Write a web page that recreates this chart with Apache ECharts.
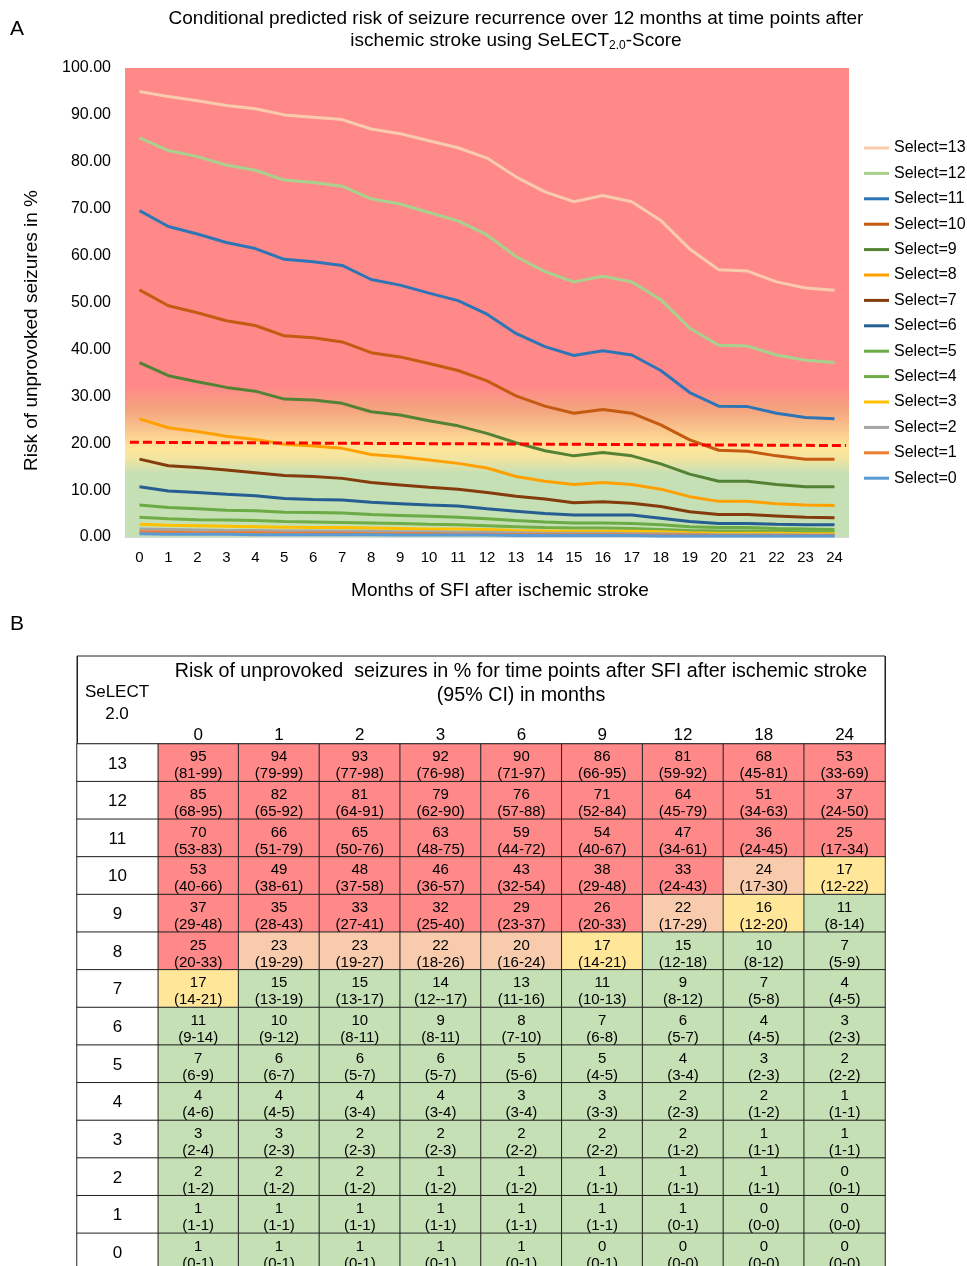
<!DOCTYPE html>
<html>
<head>
<meta charset="utf-8">
<script src="https://cdn.jsdelivr.net/npm/echarts@6/dist/echarts.min.js"></script>
<style>
  html, body { margin: 0; padding: 0; background: #fff; overflow: hidden; }
  #chart { width: 967px; height: 1280px; }
</style>
</head>
<body>
<div id="chart"></div>
<script>
// months after SFI (x axis of panel A)
const months = ['0','1','2','3','4','5','6','7','8','9','10','11','12',
  '13','14','15','16','17','18','19','20','21','22','23','24'];

// predicted risk (%) per SeLECT 2.0 score
const sel13 = [95.0, 93.9, 93.0, 92.0, 91.3, 90.0, 89.5, 89.0, 87.0, 86.0, 84.5, 83.0, 80.8, 76.8, 73.6, 71.5, 72.8, 71.5, 67.5, 61.4, 57.0, 56.7, 54.4, 53.1, 52.6];
const sel12 = [85.1, 82.4, 81.1, 79.3, 78.2, 76.1, 75.6, 74.8, 72.1, 71.0, 69.2, 67.4, 64.4, 59.8, 56.6, 54.4, 55.6, 54.4, 50.6, 44.5, 40.9, 40.7, 38.8, 37.7, 37.2];
const sel11 = [69.6, 66.2, 64.6, 62.8, 61.5, 59.2, 58.7, 57.9, 54.9, 53.7, 52.0, 50.4, 47.5, 43.4, 40.6, 38.7, 39.7, 38.8, 35.5, 30.8, 27.9, 27.8, 26.4, 25.5, 25.2];
const sel10 = [52.7, 49.3, 47.8, 46.1, 45.1, 42.9, 42.5, 41.6, 39.3, 38.4, 37.0, 35.5, 33.3, 30.1, 27.9, 26.4, 27.2, 26.4, 23.9, 20.7, 18.5, 18.3, 17.3, 16.6, 16.6];
const sel9  = [37.2, 34.4, 33.1, 31.9, 31.1, 29.4, 29.2, 28.5, 26.7, 26.0, 24.8, 23.7, 22.1, 20.1, 18.4, 17.3, 18.0, 17.3, 15.6, 13.4, 11.9, 11.9, 11.2, 10.7, 10.7];
const sel8  = [25.2, 23.3, 22.5, 21.5, 20.8, 19.8, 19.4, 18.9, 17.6, 17.1, 16.4, 15.7, 14.7, 12.9, 11.9, 11.2, 11.6, 11.2, 10.2, 8.6, 7.6, 7.6, 7.1, 6.8, 6.7];
const sel7  = [16.6, 15.2, 14.8, 14.3, 13.7, 13.1, 12.9, 12.5, 11.6, 11.1, 10.6, 10.2, 9.5, 8.7, 8.1, 7.3, 7.5, 7.2, 6.5, 5.4, 4.8, 4.8, 4.5, 4.2, 4.1];
const sel6  = [10.7, 9.8, 9.5, 9.1, 8.8, 8.2, 8.0, 7.9, 7.4, 7.1, 6.8, 6.6, 6.0, 5.5, 5.0, 4.7, 4.7, 4.7, 4.0, 3.3, 2.9, 2.9, 2.7, 2.6, 2.6];
const sel5  = [6.8, 6.3, 6.0, 5.7, 5.6, 5.3, 5.2, 5.1, 4.8, 4.6, 4.4, 4.2, 3.9, 3.5, 3.2, 3.0, 3.0, 2.9, 2.6, 2.2, 2.0, 2.0, 1.8, 1.7, 1.6];
const sel4  = [4.2, 3.9, 3.7, 3.6, 3.5, 3.3, 3.2, 3.1, 3.0, 2.9, 2.7, 2.6, 2.4, 2.2, 2.0, 1.9, 1.9, 1.8, 1.6, 1.4, 1.3, 1.3, 1.2, 1.1, 1.1];
const sel3  = [2.7, 2.5, 2.4, 2.3, 2.2, 2.1, 2.0, 2.0, 1.9, 1.8, 1.7, 1.7, 1.6, 1.4, 1.3, 1.2, 1.2, 1.2, 1.1, 0.9, 0.8, 0.8, 0.8, 0.7, 0.7];
const sel2  = [1.7, 1.6, 1.5, 1.4, 1.4, 1.3, 1.3, 1.2, 1.2, 1.1, 1.1, 1.0, 1.0, 0.9, 0.8, 0.8, 0.8, 0.7, 0.7, 0.6, 0.5, 0.5, 0.5, 0.4, 0.4];
const sel1  = [1.1, 1.0, 0.9, 0.9, 0.9, 0.8, 0.8, 0.8, 0.7, 0.7, 0.7, 0.6, 0.6, 0.5, 0.5, 0.5, 0.5, 0.4, 0.4, 0.4, 0.3, 0.3, 0.3, 0.3, 0.3];
const sel0  = [0.7, 0.6, 0.6, 0.6, 0.5, 0.5, 0.5, 0.5, 0.5, 0.4, 0.4, 0.4, 0.4, 0.3, 0.3, 0.3, 0.3, 0.3, 0.2, 0.2, 0.2, 0.2, 0.2, 0.2, 0.2];

const lineNames = ['Select=13','Select=12','Select=11','Select=10','Select=9','Select=8','Select=7',
  'Select=6','Select=5','Select=4','Select=3','Select=2','Select=1','Select=0'];
const lineData = [sel13, sel12, sel11, sel10, sel9, sel8, sel7, sel6, sel5, sel4, sel3, sel2, sel1, sel0];
const lineColors = ['#F8CBAD','#A9D18E','#2E75B6','#C55A11','#548235','#FFA000','#843C0C',
  '#255E91','#6AAB45','#70AD47','#FFC000','#A5A5A5','#ED7D31','#5B9BD5'];

// 20 % threshold (dashed), endpoints as [month, risk]
const thresholdLine = [[-0.33, 20.2], [24.4, 19.5]];

// panel B table
const tableMonths = ['0','1','2','3','6','9','12','18','24'];
const tableScores = ['13','12','11','10','9','8','7','6','5','4','3','2','1','0'];
const tableRisk = [
  [95, 94, 93, 92, 90, 86, 81, 68, 53],
  [85, 82, 81, 79, 76, 71, 64, 51, 37],
  [70, 66, 65, 63, 59, 54, 47, 36, 25],
  [53, 49, 48, 46, 43, 38, 33, 24, 17],
  [37, 35, 33, 32, 29, 26, 22, 16, 11],
  [25, 23, 23, 22, 20, 17, 15, 10, 7],
  [17, 15, 15, 14, 13, 11, 9, 7, 4],
  [11, 10, 10, 9, 8, 7, 6, 4, 3],
  [7, 6, 6, 6, 5, 5, 4, 3, 2],
  [4, 4, 4, 4, 3, 3, 2, 2, 1],
  [3, 3, 2, 2, 2, 2, 2, 1, 1],
  [2, 2, 2, 1, 1, 1, 1, 1, 0],
  [1, 1, 1, 1, 1, 1, 1, 0, 0],
  [1, 1, 1, 1, 1, 0, 0, 0, 0]
];
const tableCI = [
  ['81-99','79-99','77-98','76-98','71-97','66-95','59-92','45-81','33-69'],
  ['68-95','65-92','64-91','62-90','57-88','52-84','45-79','34-63','24-50'],
  ['53-83','51-79','50-76','48-75','44-72','40-67','34-61','24-45','17-34'],
  ['40-66','38-61','37-58','36-57','32-54','29-48','24-43','17-30','12-22'],
  ['29-48','28-43','27-41','25-40','23-37','20-33','17-29','12-20','8-14'],
  ['20-33','19-29','19-27','18-26','16-24','14-21','12-18','8-12','5-9'],
  ['14-21','13-19','13-17','12--17','11-16','10-13','8-12','5-8','4-5'],
  ['9-14','9-12','8-11','8-11','7-10','6-8','5-7','4-5','2-3'],
  ['6-9','6-7','5-7','5-7','5-6','4-5','3-4','2-3','2-2'],
  ['4-6','4-5','3-4','3-4','3-4','3-3','2-3','1-2','1-1'],
  ['2-4','2-3','2-3','2-3','2-2','2-2','1-2','1-1','1-1'],
  ['1-2','1-2','1-2','1-2','1-2','1-1','1-1','1-1','0-1'],
  ['1-1','1-1','1-1','1-1','1-1','1-1','0-1','0-0','0-0'],
  ['0-1','0-1','0-1','0-1','0-1','0-1','0-0','0-0','0-0']
];

const FONT = 'Liberation Sans, Arial, sans-serif';
const RED = '#FF8989';

const chart = echarts.init(document.getElementById('chart'));

const tableYCats = tableScores.slice().reverse(); // bottom -> top
const tableXCats = [''].concat(tableMonths);

const riskCells = [];
tableScores.forEach((score, r) => {
  const y = tableYCats.indexOf(score);
  tableMonths.forEach((m, c) => {
    riskCells.push({ value: [c + 1, y, tableRisk[r][c]], ci: tableCI[r][c] });
  });
});
const scoreCells = tableScores.map(score => [0, tableYCats.indexOf(score), Number(score)]);

const series = lineNames.map((name, i) => ({
  name: name,
  type: 'line',
  data: lineData[i],
  xAxisIndex: 0,
  yAxisIndex: 0,
  symbol: 'none',
  z: 3,
  lineStyle: { width: 3, color: lineColors[i] },
  itemStyle: { color: lineColors[i] },
}));

series.push({
  name: 'threshold',
  type: 'line',
  data: thresholdLine,
  xAxisIndex: 1,
  yAxisIndex: 1,
  symbol: 'none',
  z: 4,
  lineStyle: { width: 3, color: '#FF0000', type: [9, 4] },
});

series.push({
  name: 'risk table',
  type: 'heatmap',
  xAxisIndex: 2,
  yAxisIndex: 2,
  data: riskCells,
  itemStyle: { borderColor: '#222', borderWidth: 1 },
  label: {
    show: true,
    color: '#000',
    fontFamily: FONT,
    fontSize: 15,
    lineHeight: 17,
    offset: [0, 3],
    formatter: (p) => p.data.value[2] + '\n(' + p.data.ci + ')',
  },
  emphasis: { disabled: true },
});

series.push({
  name: 'score column',
  type: 'heatmap',
  xAxisIndex: 2,
  yAxisIndex: 2,
  data: scoreCells,
  itemStyle: { borderColor: '#222', borderWidth: 1 },
  label: {
    show: true,
    color: '#000',
    fontFamily: FONT,
    fontSize: 17,
    offset: [0, 1],
    formatter: (p) => String(p.value[2]),
  },
  emphasis: { disabled: true },
});

const riskIdx = lineNames.length + 1;

chart.setOption({
  animation: false,
  textStyle: { fontFamily: FONT },
  title: [
    {
      text: 'Conditional predicted risk of seizure recurrence over 12 months at time points after\nischemic stroke using SeLECT{sub|2.0}-Score',
      left: 516, top: 8, textAlign: 'center', padding: 0,
      textStyle: {
        fontFamily: FONT, fontSize: 19, fontWeight: 'normal', color: '#000', lineHeight: 22,
        rich: { sub: { fontFamily: FONT, fontSize: 12, lineHeight: 12, verticalAlign: 'bottom', color: '#000' } },
      },
    },
    { text: 'A', left: 10, top: 19, padding: 0,
      textStyle: { fontFamily: FONT, fontSize: 21, fontWeight: 'normal', color: '#000' } },
    { text: 'B', left: 10, top: 614, padding: 0,
      textStyle: { fontFamily: FONT, fontSize: 21, fontWeight: 'normal', color: '#000' } },
    { text: 'SeLECT\n2.0', left: 117, top: 681, textAlign: 'center', padding: 0,
      textStyle: { fontFamily: FONT, fontSize: 17, fontWeight: 'normal', color: '#000', lineHeight: 22 } },
    { text: 'Risk of unprovoked  seizures in % for time points after SFI after ischemic stroke\n(95% CI) in months',
      left: 521, top: 660, textAlign: 'center', padding: 0,
      textStyle: { fontFamily: FONT, fontSize: 19.7, fontWeight: 'normal', color: '#000', lineHeight: 24 } },
  ],
  legend: {
    data: lineNames,
    orient: 'vertical',
    left: 864,
    top: 140,
    icon: 'rect',
    itemWidth: 25,
    itemHeight: 3,
    itemGap: 9.4,
    padding: 0,
    selectedMode: false,
    textStyle: { fontFamily: FONT, fontSize: 16, lineHeight: 16, color: '#000' },
  },
  visualMap: [
    {
      type: 'piecewise',
      show: false,
      seriesIndex: riskIdx,
      dimension: 2,
      pieces: [
        { gte: 25, color: RED },
        { gte: 20, lt: 25, color: '#F8CBAD' },
        { gte: 16, lt: 20, color: '#FFE699' },
        { lt: 16, color: '#C5E0B4' },
      ],
    },
    {
      type: 'piecewise',
      show: false,
      seriesIndex: riskIdx + 1,
      dimension: 2,
      pieces: [{ gte: -1, color: '#FFFFFF' }],
    },
  ],
  grid: [
    {
      left: 125, top: 68, width: 724, height: 469,
      show: true, borderWidth: 0,
      backgroundColor: new echarts.graphic.LinearGradient(0, 0, 0, 1, [
        { offset: 0, color: RED },
        { offset: 0.68, color: RED },
        { offset: 0.73, color: '#F4A57E' },
        { offset: 0.775, color: '#FAC98F' },
        { offset: 0.81, color: '#FFE699' },
        { offset: 0.835, color: '#F0E4A2' },
        { offset: 0.865, color: '#C5E0B4' },
        { offset: 1, color: '#C5E0B4' },
      ]),
    },
    { left: 125, top: 68, width: 724, height: 469 },
    { left: 77, top: 744, width: 808, height: 527 },
    { left: 77, top: 656, width: 808, height: 88, show: true, borderColor: '#222', borderWidth: 1 },
  ],
  xAxis: [
    {
      type: 'category', gridIndex: 0, data: months, boundaryGap: true,
      axisLine: { show: true, lineStyle: { color: '#D9D9D9', width: 1 } },
      axisTick: { show: false },
      axisLabel: { margin: 13, fontSize: 15, color: '#000', fontFamily: FONT, interval: 0 },
      name: 'Months of SFI after ischemic stroke',
      nameLocation: 'middle', nameGap: 44,
      nameTextStyle: { fontSize: 19, color: '#000', fontFamily: FONT, padding: [0, 0, 0, 26] },
    },
    { type: 'value', gridIndex: 1, min: -0.5, max: 24.5, show: false },
    {
      type: 'category', gridIndex: 2, data: tableXCats, position: 'top',
      axisLine: { show: false }, axisTick: { show: false }, splitLine: { show: false },
      axisLabel: { margin: 0, fontSize: 17, color: '#000', fontFamily: FONT, interval: 0 },
    },
    {
      type: 'category', gridIndex: 3, data: tableXCats,
      axisLine: { show: false }, axisTick: { show: false }, axisLabel: { show: false },
      splitLine: { show: true, interval: (i) => i === 1, lineStyle: { color: '#222', width: 1 } },
    },
  ],
  yAxis: [
    {
      type: 'value', gridIndex: 0, min: 0, max: 100, interval: 10,
      axisLine: { show: false }, axisTick: { show: false }, splitLine: { show: false },
      axisLabel: { margin: 14, fontSize: 16, color: '#000', fontFamily: FONT, formatter: (v) => v.toFixed(2) },
      name: 'Risk of unprovoked seizures in %',
      nameLocation: 'middle', nameGap: 84,
      nameTextStyle: { fontSize: 19, color: '#000', fontFamily: FONT, padding: [0, 56, 0, 0] },
    },
    { type: 'value', gridIndex: 1, min: 0, max: 100, show: false },
    {
      type: 'category', gridIndex: 2, data: tableYCats,
      axisLine: { show: false }, axisTick: { show: false }, axisLabel: { show: false }, splitLine: { show: false },
    },
    { type: 'value', gridIndex: 3, min: 0, max: 1, show: false },
  ],
  series: series,
});
</script>
</body>
</html>
